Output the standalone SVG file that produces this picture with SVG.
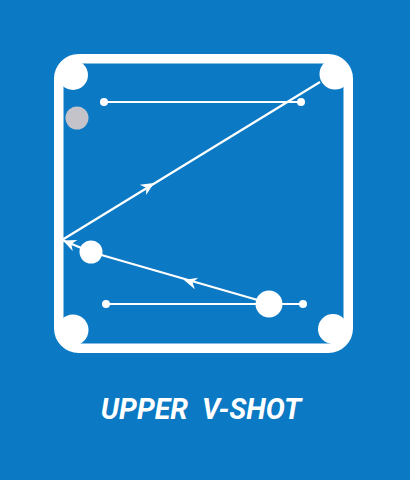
<svg xmlns="http://www.w3.org/2000/svg" width="410" height="480" viewBox="0 0 410 480">
<defs>
<style>
.bg{fill:#0b79c3}
.w{fill:#fff}
.ln{stroke:#fff;stroke-width:2.2;fill:none;stroke-linejoin:round}
.rail{fill:none;stroke:#fff;stroke-width:9.5}
.title{font-family:Roboto,"Liberation Sans",sans-serif;font-weight:bold;font-style:italic;font-size:28.5px;fill:#fff;white-space:pre}
</style>
<path id="ah" d="M0,0 L-13,-6 L-9,0 L-13,6 Z" fill="#fff"/>
</defs>
<rect class="bg" x="0" y="0" width="410" height="480"/>
<g id="table">
<rect class="rail" x="58.75" y="58.75" width="289.5" height="289.5" rx="20"/>
</g>
<g id="pockets">
<circle class="w" cx="73" cy="75" r="15"/>
<circle class="w" cx="335" cy="74" r="15.5"/>
<circle class="w" cx="73" cy="330" r="15.5"/>
<circle class="w" cx="333" cy="329" r="15"/>
</g>
<g id="connectors">
<line class="ln" x1="104" y1="102" x2="301" y2="102"/>
<line class="ln" x1="106" y1="304" x2="303" y2="304"/>
<path class="ln" d="M268,303 L91,252 L62,240 L320,82"/>
<use href="#ah" transform="translate(184,280) rotate(196)"/>
<use href="#ah" transform="translate(63,240.5) rotate(202.5)"/>
<use href="#ah" transform="translate(154,183) rotate(-31.5)"/>
</g>
<g id="dots">
<circle class="w" cx="104" cy="102" r="4"/>
<circle class="w" cx="301" cy="102" r="4"/>
<circle class="w" cx="106" cy="304" r="4"/>
<circle class="w" cx="303" cy="304" r="4"/>
</g>
<g id="gray-ball"><circle cx="77" cy="118" r="11.5" fill="#c4c3c9"/></g>
<g id="object-ball"><circle class="w" cx="91" cy="252" r="11.5"/></g>
<g id="cue-ball"><circle class="w" cx="269" cy="304" r="13.5"/></g>
<g id="label"><text class="title" x="201" y="419" text-anchor="middle">UPPER  V-SHOT</text></g>
</svg>
